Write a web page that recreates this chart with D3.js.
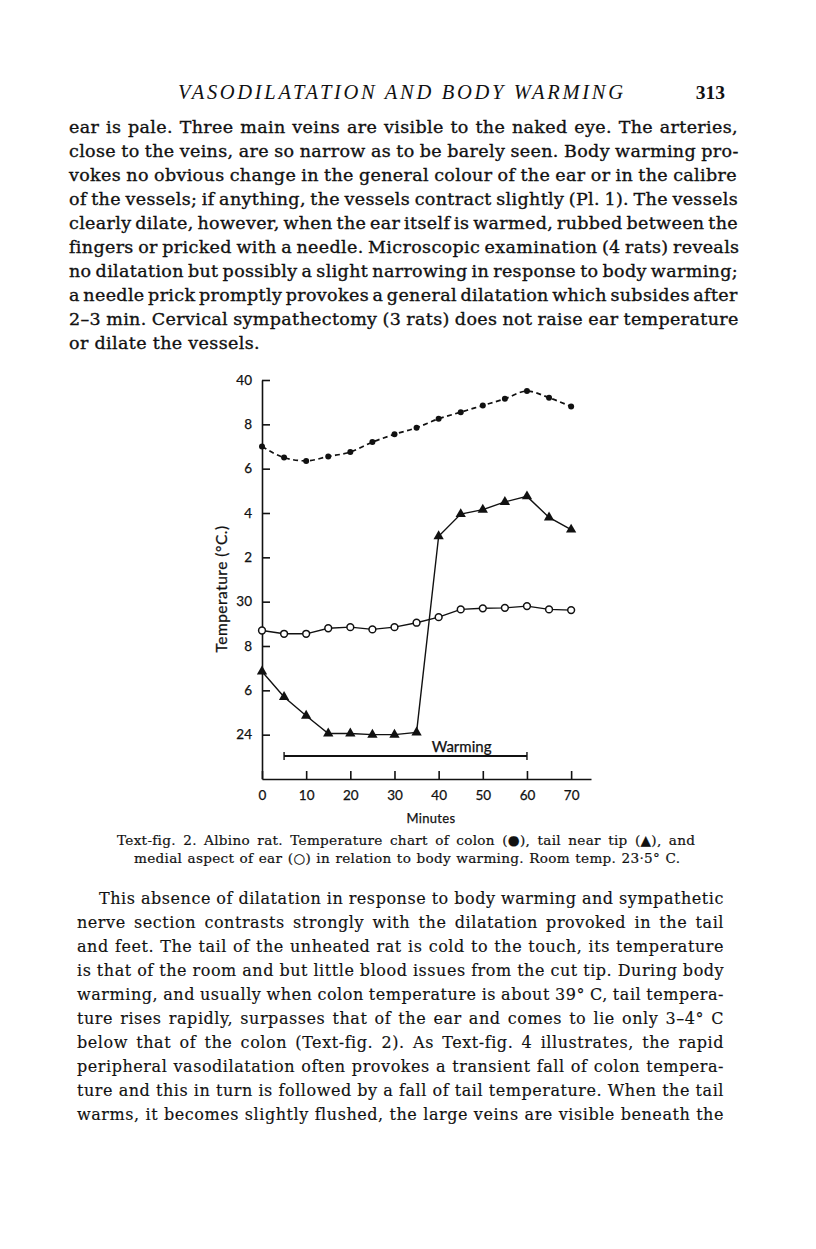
<!DOCTYPE html>
<html lang="en">
<head>
<meta charset="utf-8">
<style>
  body { margin: 0; background: #fff; }
  .body1 { font-family: "DejaVu Serif", serif; font-size: 17.5px; letter-spacing: 0.35px; fill: #111; stroke: #111; stroke-width: 0.35px; }
  .body2 { font-family: "DejaVu Serif", serif; font-size: 16px; letter-spacing: 0.55px; fill: #111; stroke: #111; stroke-width: 0.15px; }
  .caption { font-family: "DejaVu Serif", serif; font-size: 13.6px; letter-spacing: 0.3px; fill: #111; stroke: #111; stroke-width: 0.2px; }
  .chart text { font-family: Lato, "Open Sans", sans-serif; fill: #111; stroke: #111; stroke-width: 0.25px; }
  .tick line, .domain { stroke: #111; stroke-width: 1.6px; }
</style>
</head>
<body>
<script src="https://cdn.jsdelivr.net/npm/d3@7"></script>
<script>
// readings (minutes / deg C)
var minutes = [0, 5, 10, 15, 20, 25, 30, 35, 40, 45, 50, 55, 60, 65, 70];
var colon = [37.0, 36.5, 36.35, 36.55, 36.75, 37.2, 37.55, 37.85, 38.25, 38.55, 38.85, 39.15, 39.5, 39.2, 38.8];
var tail = [26.85, 25.7, 24.85, 24.05, 24.05, 24.0, 24.0, 24.1, 32.95, 33.95, 34.15, 34.5, 34.75, 33.8, 33.25];
var ear = [28.7, 28.55, 28.55, 28.8, 28.85, 28.75, 28.85, 29.05, 29.3, 29.65, 29.7, 29.72, 29.8, 29.65, 29.62];

var yTicks = [24, 26, 28, 30, 32, 34, 36, 38, 40];
var yTickLabels = ["24", "6", "8", "30", "2", "4", "6", "8", "40"];
var xTicks = [0, 10, 20, 30, 40, 50, 60, 70];
var warming = [5, 60];

var header = "VASODILATATION AND BODY WARMING";
var pageNo = "313";

var textTop = [
  "ear is pale. Three main veins are visible to the naked eye. The arteries,",
  "close to the veins, are so narrow as to be barely seen.  Body warming pro-",
  "vokes no obvious change in the general colour of the ear or in the calibre",
  "of the vessels; if anything, the vessels contract slightly (Pl. 1). The vessels",
  "clearly dilate, however, when the ear itself is warmed, rubbed between the",
  "fingers or pricked with a needle.  Microscopic examination (4 rats) reveals",
  "no dilatation but possibly a slight narrowing in response to body warming;",
  "a needle prick promptly provokes a general dilatation which subsides after",
  "2\u20133 min.  Cervical sympathectomy (3 rats) does not raise ear temperature",
  "or dilate the vessels."
];
var caption = [
  "Text-fig. 2.  Albino rat. Temperature chart of colon (\u25CF), tail near tip (\u25B2), and",
  "medial aspect of ear (\u25CB) in relation to body warming.  Room temp. 23\u00B75\u00B0 C."
];
var textBottom = [
  "This absence of dilatation in response to body warming and sympathetic",
  "nerve section contrasts strongly with the dilatation provoked in the tail",
  "and feet. The tail of the unheated rat is cold to the touch, its temperature",
  "is that of the room and but little blood issues from the cut tip.  During body",
  "warming, and usually when colon temperature is about 39\u00B0 C, tail tempera-",
  "ture rises rapidly, surpasses that of the ear and comes to lie only 3\u20134\u00B0 C",
  "below that of the colon (Text-fig. 2). As Text-fig. 4 illustrates, the rapid",
  "peripheral vasodilatation often provokes a transient fall of colon tempera-",
  "ture and this in turn is followed by a fall of tail temperature. When the tail",
  "warms, it becomes slightly flushed, the large veins are visible beneath the"
];

var svg = d3.select("body").append("svg")
  .attr("width", 816)
  .attr("height", 1249);

// justify a line by stretching the word spacing
function justify(sel, target) {
  var w = sel.node().getBBox().width;
  var n = (sel.text().match(/ /g) || []).length;
  if (n > 0) sel.attr("word-spacing", (target - w) / n);
}

// running head
svg.append("text")
  .attr("x", 178).attr("y", 99)
  .attr("textLength", 445).attr("lengthAdjust", "spacing")
  .style("font-family", "Liberation Serif, serif").style("font-style", "italic")
  .style("font-size", "20.5px").style("fill", "#111")
  .text(header);
svg.append("text")
  .attr("x", 725).attr("y", 99).attr("text-anchor", "end")
  .style("font-family", "Liberation Serif, serif").style("font-weight", "bold")
  .style("font-size", "19.5px").style("fill", "#111")
  .text(pageNo);

// top paragraph
textTop.forEach(function(line, i) {
  var t = svg.append("text").attr("class", "body1")
    .attr("x", 69).attr("y", 133 + i * 24)
    .text(line);
  if (i < textTop.length - 1) justify(t, 669);
});

// bottom paragraph
textBottom.forEach(function(line, i) {
  var x0 = i == 0 ? 99 : 77;
  var t = svg.append("text").attr("class", "body2")
    .attr("x", x0).attr("y", 904 + i * 24)
    .text(line);
  justify(t, 724 - x0);
});

// caption, two centred lines
var capW = [581, 547];
caption.forEach(function(line, i) {
  var t = svg.append("text").attr("class", "caption")
    .attr("x", 407.5 - capW[i] / 2).attr("y", 845 + i * 18)
    .text(line);
  justify(t, capW[i]);
});

// chart
var g = svg.append("g").attr("class", "chart");
var x = d3.scaleLinear().domain([0, 74.5]).range([262, 591]);
var y = d3.scaleLinear().domain([22, 40]).range([779, 380]);

g.append("g")
  .attr("transform", "translate(0,779)")
  .call(d3.axisBottom(x).tickValues(xTicks).tickSize(-8).tickSizeOuter(0).tickPadding(11).tickFormat(d3.format("d")))
  .call(function(a) { a.selectAll("text").style("font-size", "13.5px").style("font-family", "Lato, sans-serif"); });

g.append("g")
  .attr("transform", "translate(262,0)")
  .call(d3.axisLeft(y).tickValues(yTicks).tickSize(-8).tickSizeOuter(0).tickPadding(10)
    .tickFormat(function(d, i) { return yTickLabels[i]; }))
  .call(function(a) { a.selectAll("text").style("font-size", "13.5px").style("font-family", "Lato, sans-serif"); });

g.selectAll(".domain").attr("fill", "none");

// axis names
g.append("text")
  .attr("x", 431).attr("y", 822.5).attr("text-anchor", "middle")
  .style("font-size", "13px").style("letter-spacing", "0.3px")
  .text("Minutes");
g.append("text")
  .attr("transform", "translate(227,589) rotate(-90)")
  .attr("text-anchor", "middle")
  .style("font-size", "15.5px").style("letter-spacing", "0.5px")
  .text("Temperature (\u00B0C.)");

// warming bar
var wy = 756;
g.append("line")
  .attr("x1", x(warming[0])).attr("x2", x(warming[1]))
  .attr("y1", wy).attr("y2", wy)
  .attr("stroke", "#111").attr("stroke-width", 1.8);
warming.forEach(function(m) {
  g.append("line")
    .attr("x1", x(m)).attr("x2", x(m))
    .attr("y1", wy - 4).attr("y2", wy + 4)
    .attr("stroke", "#111").attr("stroke-width", 1.4);
});
g.append("text")
  .attr("x", x(45.2)).attr("y", 751.5).attr("text-anchor", "middle")
  .style("font-size", "15px")
  .text("Warming");

function pts(vals) {
  return minutes.map(function(m, i) { return [m, vals[i]]; });
}

// colon (dashed, filled dots)
g.append("path")
  .datum(pts(colon))
  .attr("fill", "none").attr("stroke", "#111").attr("stroke-width", 1.7)
  .attr("stroke-dasharray", "5,3.5")
  .attr("d", d3.line().curve(d3.curveMonotoneX)
    .x(function(d) { return x(d[0]); }).y(function(d) { return y(d[1]); }));
g.selectAll(".colon").data(pts(colon)).enter().append("circle")
  .attr("class", "colon")
  .attr("cx", function(d) { return x(d[0]); })
  .attr("cy", function(d) { return y(d[1]); })
  .attr("r", 3).attr("fill", "#111");

// ear (solid, open circles)
g.append("path")
  .datum(pts(ear))
  .attr("fill", "none").attr("stroke", "#111").attr("stroke-width", 1.4)
  .attr("d", d3.line().x(function(d) { return x(d[0]); }).y(function(d) { return y(d[1]); }));
g.selectAll(".ear").data(pts(ear)).enter().append("circle")
  .attr("class", "ear")
  .attr("cx", function(d) { return x(d[0]); })
  .attr("cy", function(d) { return y(d[1]); })
  .attr("r", 3.4).attr("fill", "#fff").attr("stroke", "#111").attr("stroke-width", 1.5);

// tail (solid, triangles)
g.append("path")
  .datum(pts(tail))
  .attr("fill", "none").attr("stroke", "#111").attr("stroke-width", 1.4)
  .attr("d", d3.line().x(function(d) { return x(d[0]); }).y(function(d) { return y(d[1]); }));
g.selectAll(".tail").data(pts(tail)).enter().append("path")
  .attr("class", "tail")
  .attr("transform", function(d) { return "translate(" + x(d[0]) + "," + y(d[1]) + ")"; })
  .attr("d", d3.symbol().type(d3.symbolTriangle).size(46))
  .attr("fill", "#111");
</script>
</body>
</html>
